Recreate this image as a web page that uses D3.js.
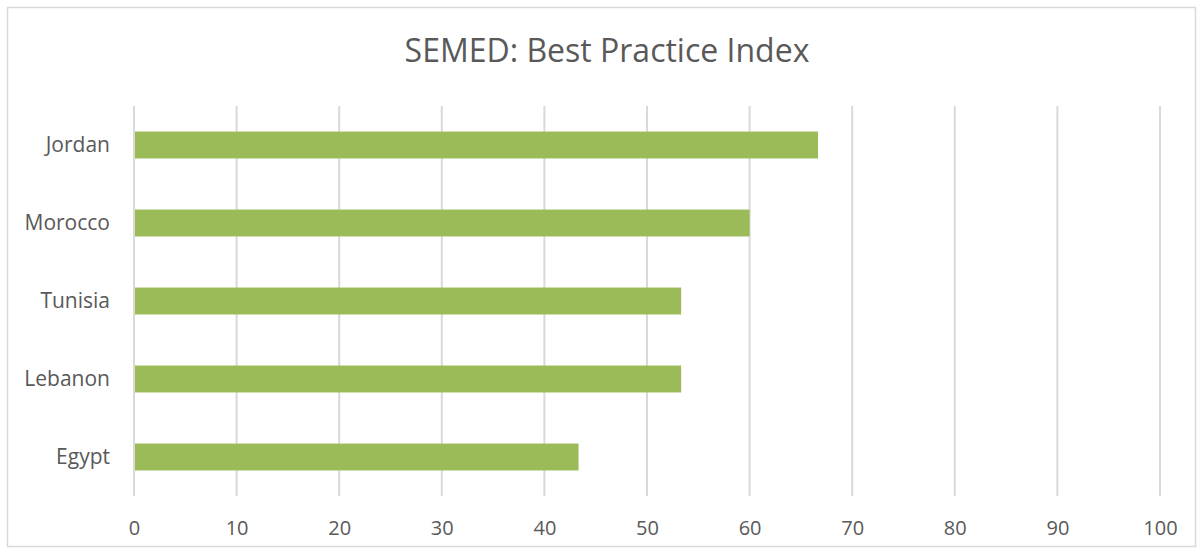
<!DOCTYPE html>
<html lang="en">
<head>
  <meta charset="UTF-8">
  <title>SEMED: Best Practice Index</title>
  <script src="https://d3js.org/d3.v7.min.js"></script>
  <style>
    body { margin: 0; background: #fff; font-family: "Open Sans", Arial, sans-serif; }
    .grid line { stroke: #d9d9d9; stroke-width: 2; }
    .axis text { fill: #595959; font-size: 20px; font-family: "Open Sans", Arial, sans-serif; }
    .axis.cat text { font-size: 21px; }
  </style>
</head>
<body>
  <div id="chart"></div>
  <script>
    const countries = ["Jordan", "Morocco", "Tunisia", "Lebanon", "Egypt"];
    const scores = [66.67, 60, 53.33, 53.33, 43.33];
    const tickValues = [0, 10, 20, 30, 40, 50, 60, 70, 80, 90, 100];

    const width = 1203;
    const height = 554;
    const margin = { top: 106, right: 43, bottom: 58, left: 134 };

    const svg = d3.select("#chart").append("svg")
      .attr("width", width)
      .attr("height", height);

    // chart border
    svg.append("rect")
      .attr("x", 7.5).attr("y", 7.5)
      .attr("width", 1188).attr("height", 539)
      .attr("fill", "#fff")
      .attr("stroke", "#d9d9d9")
      .attr("stroke-width", 1.5);

    const x = d3.scaleLinear()
      .domain([0, 100])
      .range([margin.left, width - margin.right]);

    const y = d3.scaleBand()
      .domain(countries)
      .range([margin.top, height - margin.bottom])
      .paddingInner(0.655)
      .paddingOuter(0.3275);

    // vertical gridlines
    svg.append("g")
      .attr("class", "grid")
      .selectAll("line")
      .data(tickValues)
      .join("line")
      .attr("x1", d => x(d))
      .attr("x2", d => x(d))
      .attr("y1", margin.top)
      .attr("y2", height - margin.bottom);

    svg.append("g")
      .selectAll("rect")
      .data(countries)
      .join("rect")
      .attr("x", x(0) + 1)
      .attr("y", d => y(d))
      .attr("width", (d, i) => x(scores[i]) - x(0) - 1)
      .attr("height", y.bandwidth())
      .attr("fill", "#9bbb59");

    // x tick labels
    const xAxis = svg.append("g")
      .attr("class", "axis")
      .attr("transform", `translate(0,${height - margin.bottom})`)
      .call(d3.axisBottom(x).tickValues(tickValues).tickSize(0).tickPadding(25));
    xAxis.select(".domain").remove();

    // category labels
    const yAxis = svg.append("g")
      .attr("class", "axis cat")
      .attr("transform", `translate(${margin.left - 10},0)`)
      .call(d3.axisLeft(y).tickSize(0).tickPadding(14));
    yAxis.select(".domain").remove();
    yAxis.selectAll("text").attr("dy", "0.35em");

    svg.append("text")
      .attr("x", 607)
      .attr("y", 62)
      .attr("text-anchor", "middle")
      .attr("fill", "#595959")
      .style("font-size", "32px")
      .text("SEMED: Best Practice Index");
  </script>
</body>
</html>
